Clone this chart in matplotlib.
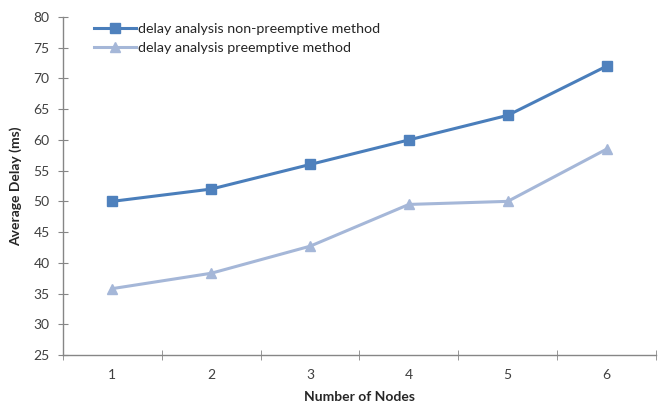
import matplotlib
matplotlib.use("Agg")
import matplotlib.pyplot as plt

categories = ["1", "2", "3", "4", "5", "6"]
non_preemptive = [50, 52, 56, 60, 64, 72]
preemptive = [35.8, 38.3, 42.7, 49.5, 50.0, 58.5]
y_ticks = [25, 30, 35, 40, 45, 50, 55, 60, 65, 70, 75, 80]

plt.rcParams['font.family'] = ['Lato', 'DejaVu Sans']

fig = plt.figure(figsize=(6.62, 4.05), dpi=100)
ax = fig.add_axes([0.095, 0.1235, 0.896, 0.8345])

x = list(range(len(categories)))
ax.plot(x, non_preemptive, color="#4A7EBB", linewidth=2.2, marker="s", markersize=7.5,
        markerfacecolor="#4F81BD", markeredgecolor="#4F81BD",
        label="delay analysis non-preemptive method")
ax.plot(x, preemptive, color="#A5B7D8", linewidth=2.2, marker="^", markersize=7.5,
        markerfacecolor="#A5B7D8", markeredgecolor="#A5B7D8",
        label="delay analysis preemptive method")

ax.set_xlim(-0.5, len(categories) - 0.5)
ax.set_ylim(25, 80)
ax.set_yticks(y_ticks)
ax.set_xticks(x)
ax.set_xticklabels(categories)
ax.set_xticks([i - 0.5 for i in range(len(categories) + 1)], minor=True)
ax.tick_params(axis='x', which='major', length=0, pad=10, labelsize=10, colors="#404040")
ax.tick_params(axis='x', which='minor', length=7, direction='inout', color="#868686")
ax.tick_params(axis='y', which='major', length=7, direction='inout', color="#868686",
               labelsize=10, labelcolor="#404040", pad=6)

for s in ['top', 'right']:
    ax.spines[s].set_visible(False)
for s in ['left', 'bottom']:
    ax.spines[s].set_color("#868686")
    ax.spines[s].set_linewidth(1)

ax.set_xlabel("Number of Nodes", fontsize=10, fontweight='bold', color="#262626", labelpad=7)
ax.set_ylabel("Average Delay (ms)", fontsize=10, fontweight='bold', color="#262626", labelpad=8)

leg = ax.legend(loc='upper left', bbox_to_anchor=(0.03, 1.02), frameon=False,
                fontsize=10.3, handlelength=3.0, handletextpad=0.1, labelspacing=0.5)
for t in leg.get_texts():
    t.set_color("#262626")

fig.savefig("out.png", dpi=100)
